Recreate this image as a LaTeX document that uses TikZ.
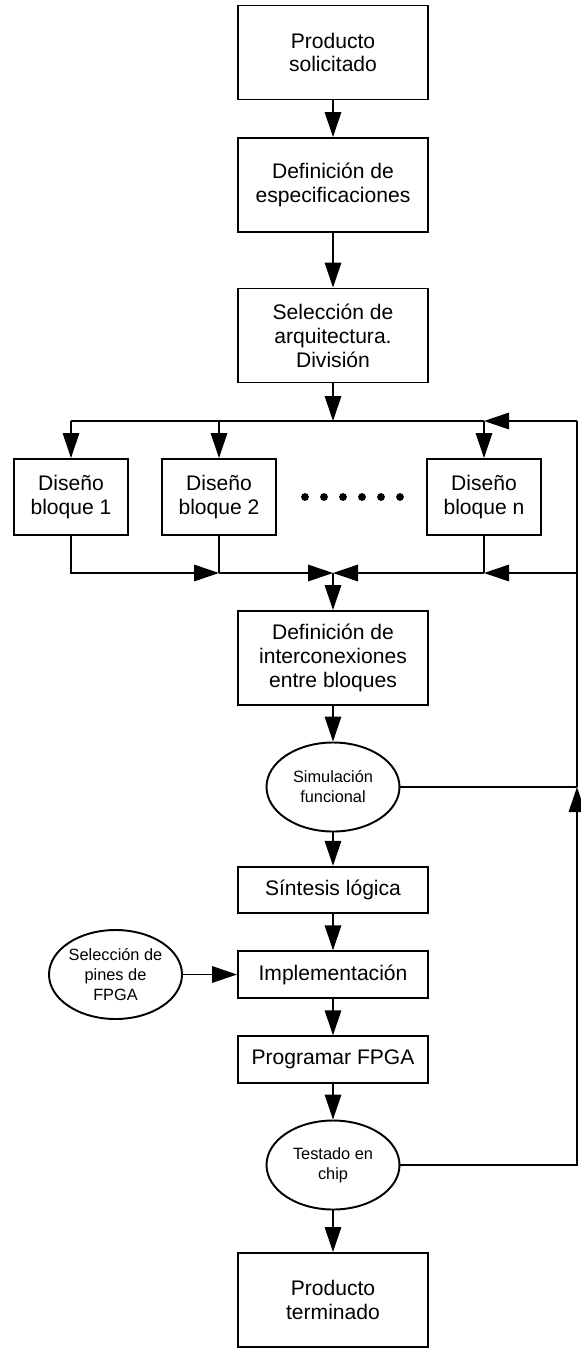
\documentclass[tikz,border=0pt]{standalone}
\usepackage{fontspec}
\setmainfont{Liberation Sans}
\usepackage{tikz}
\usetikzlibrary{calc,positioning,shapes}
\usetikzlibrary{arrows.meta}
\tikzset{>={Triangle[length=5mm,width=3.3mm]}}

\begin{document}
\begin{tikzpicture}[x=0.2mm, y=-0.2mm]
      \tikzstyle{pnode} = [line width=1.1pt, draw=black, rectangle, minimum width=3.8cm, minimum height=1.88cm, align=center, inner sep=2pt, font=\fontsize{12}{13.6}\selectfont]
      \tikzstyle{snode} = [pnode, minimum height=0.93cm]
      \tikzstyle{bnode} = [pnode, minimum width=2.28cm, minimum height=1.52cm]
      \tikzstyle{enode} = [line width=1.1pt, draw=black, ellipse, minimum width=2.66cm, minimum height=1.78cm, inner sep=0pt, align=center, font=\fontsize{9.3}{11.4}\selectfont]
      \tikzstyle{every path} = [line width=0.9pt]

      \useasboundingbox (0,0) rectangle (581,1348);

      %%%%%%%%%%%%%%%%%%%%%%%%%%%%%% 
      %% From the product to the architecture
      %%%%%%%%%%%%%%%%%%%%%%%%%%%%%% 
      \node[pnode] (p1) at (333,52.5) {Producto\\solicitado};
      \node[pnode] (p2) at (333,185) {Definición de\\especificaciones};
      \node[pnode] (p3) at (333,335.5) {Selección de\\arquitectura.\\División};

      \draw[->] (p1) -- (p2);
      \draw[->] (p2) -- (p3);

      %%%%%%%%%%%%%%%%%%%%%%%%%%%%%% 
      %% The design blocks
      %%%%%%%%%%%%%%%%%%%%%%%%%%%%%% 
      \node[bnode] (d1) at (71,497) {Diseño\\bloque 1};
      \node[bnode] (d2) at (219,497) {Diseño\\bloque 2};
      \node[bnode] (dn) at (484,497) {Diseño\\bloque n};
      \foreach \i in {0,...,5}
        \fill (305+19*\i,497) circle (3.9);

      \coordinate (top) at (333,421);
      \coordinate (bot) at (333,573);
      \coordinate (fbtop) at (577,421);
      \coordinate (fbbot) at (577,573);

      % split to the blocks
      \draw[->] (p3) -- (top);
      \draw (d1 |- top) -- (dn |- top);
      \draw[->] (d1 |- top) -- (d1);
      \draw[->] (d2 |- top) -- (d2);
      \draw[->] (dn |- top) -- (dn);
      \draw[->] (fbtop) -- (dn |- top);

      % join of the blocks
      \draw[->] (d1) |- (d2 |- bot);
      \draw (d2) -- (d2 |- bot);
      \draw[->] (d2 |- bot) -- (bot);
      \draw (dn) -- (dn |- bot);
      \draw[->] (fbbot) -- (dn |- bot);
      \draw[->] (dn |- bot) -- (bot);

      %%%%%%%%%%%%%%%%%%%%%%%%%%%%%% 
      %% Integration, synthesis and test
      %%%%%%%%%%%%%%%%%%%%%%%%%%%%%% 
      \node[pnode] (p4) at (333,658) {Definición de\\interconexiones\\entre bloques};
      \node[enode] (sim) at (333,787) {Simulación\\funcional};
      \node[snode] (p5) at (333,890) {Síntesis lógica};
      \node[snode] (p6) at (333,974.5) {Implementación};
      \node[enode] (pins) at (115.5,974.5) {Selección de\\pines de\\FPGA};
      \node[snode] (p7) at (333,1059.5) {Programar FPGA};
      \node[enode] (test) at (333,1165) {Testado en\\chip};
      \node[pnode] (p8) at (333,1300) {Producto\\terminado};

      \draw[->] (bot) -- (p4);
      \draw[->] (p4) -- (sim);
      \draw[->] (sim) -- (p5);
      \draw[->] (p5) -- (p6);
      \draw[->] (pins) -- (p6);
      \draw[->] (p6) -- (p7);
      \draw[->] (p7) -- (test);
      \draw[->] (test) -- (p8);

      % feedback
      \coordinate (fbsim) at (577,787);
      \draw (sim) -- (fbsim);
      \draw[->] (test) -| (fbsim);
      \draw (fbsim) -- (fbtop);

\end{tikzpicture}
\end{document}
